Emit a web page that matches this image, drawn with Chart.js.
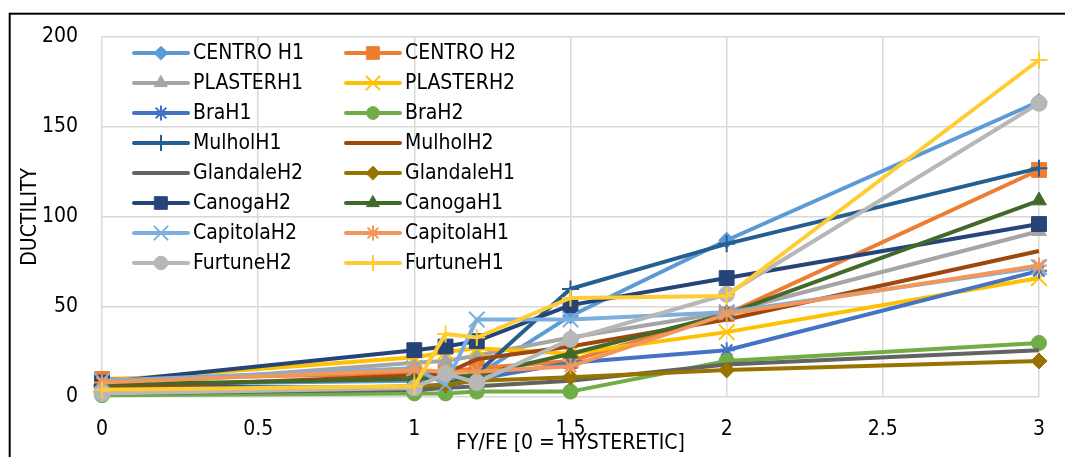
<!DOCTYPE html>
<html>
<head>
<meta charset="utf-8">
<script src="https://cdn.jsdelivr.net/npm/chart.js@4/dist/chart.umd.min.js"></script>
<style>
  html, body { margin: 0; padding: 0; background: #fff; overflow: hidden; }
  #wrap { position: relative; width: 1065px; height: 457px; }
</style>
</head>
<body>
<div id="wrap"><canvas id="c" width="1065" height="457"></canvas></div>
<script>
// ---- data ----
const xValues = [0, 1, 1.1, 1.2, 1.5, 2, 3];
const seriesNames = ["CENTRO H1", "CENTRO H2", "PLASTERH1", "PLASTERH2", "BraH1", "BraH2",
  "MulholH1", "MulholH2", "GlandaleH2", "GlandaleH1", "CanogaH2", "CanogaH1",
  "CapitolaH2", "CapitolaH1", "FurtuneH2", "FurtuneH1"];
const centroH1   = [7, 9, 11, 12, 45, 87, 164];
const centroH2   = [10, 13, 14, 16, 20, 46, 126];
const plasterH1  = [6, 19, 20, 23, 33, 47, 92];
const plasterH2  = [9, 22, 25, 27, 24, 36, 66];
const braH1      = [4, 3, 6, 10, 19, 26, 70];
const braH2      = [1, 2, 2, 3, 3, 20, 30];
const mulholH1   = [6, 5, 7, 13, 60, 85, 127];
const mulholH2   = [5, 12, 13, 21, 28, 43, 81];
const glandaleH2 = [2, 4, 5, 6, 9, 18, 26];
const glandaleH1 = [3, 6, 7, 9, 11, 15, 20];
const canogaH2   = [8, 26, 28, 31, 51, 66, 96];
const canogaH1   = [7, 10, 11, 12, 24, 46, 109];
const capitolaH2 = [9, 16, 7, 43, 43, 47, 72];
const capitolaH1 = [8, 15, 14, 14, 17, 46, 73];
const furtuneH2  = [2, 5, 13, 8, 32, 57, 163];
const furtuneH1  = [4, 6, 35, 33, 55, 56, 187];
const seriesValues = [centroH1, centroH2, plasterH1, plasterH2, braH1, braH2, mulholH1, mulholH2,
  glandaleH2, glandaleH1, canogaH2, canogaH1, capitolaH2, capitolaH1, furtuneH2, furtuneH1];
const yTicks = [0, 50, 100, 150, 200];
const xTicks = [0, 0.5, 1, 1.5, 2, 2.5, 3];

// ---- styles ----
const colors = ["#5B9BD5", "#ED7D31", "#A5A5A5", "#FFC000", "#4472C4", "#70AD47", "#255E91", "#9E480E",
  "#636363", "#997300", "#264478", "#43682B", "#7CAFDD", "#F1975A", "#B7B7B7", "#FFCD33"];
const markers = [
  {s: "rectRot", r: 8, w: 1}, {s: "rect", r: 10.5, w: 1}, {s: "triangle", r: 8.5, w: 1}, {s: "crossRot", r: 11, w: 2},
  {s: "star", r: 8, w: 2}, {s: "circle", r: 7.5, w: 1}, {s: "cross", r: 8.5, w: 2}, {s: "line", r: 0, w: 0},
  {s: "line", r: 0, w: 0}, {s: "rectRot", r: 8, w: 1}, {s: "rect", r: 10.5, w: 1}, {s: "triangle", r: 8.5, w: 1},
  {s: "crossRot", r: 11, w: 2}, {s: "star", r: 8, w: 2}, {s: "circle", r: 8, w: 1}, {s: "cross", r: 8.5, w: 2}
];
const FONT = "'DejaVu Sans Condensed', 'Liberation Sans', Arial, sans-serif";
const FSIZE = 21;

const datasets = seriesNames.map((name, i) => ({
  label: name,
  data: xValues.map((x, j) => ({x: x, y: seriesValues[i][j]})),
  borderColor: colors[i],
  backgroundColor: colors[i],
  borderWidth: 4,
  pointStyle: markers[i].s,
  pointRadius: markers[i].r,
  pointBorderWidth: markers[i].w,
  pointBackgroundColor: colors[i],
  pointBorderColor: colors[i],
  tension: 0,
  clip: false,
  order: 15 - i
}));

const framePlugin = {
  id: "frame",
  beforeDraw(chart) {
    const ctx = chart.ctx;
    ctx.save();
    ctx.fillStyle = "#fff";
    ctx.fillRect(0, 0, chart.width, chart.height);
    ctx.strokeStyle = "#000";
    ctx.lineWidth = 2;
    ctx.strokeRect(9.7, 13.7, 3000, 3000);
    ctx.restore();
  }
};

const legendPlugin = {
  id: "gridLegend",
  afterDraw(chart) {
    const ctx = chart.ctx;
    ctx.save();
    chart.data.datasets.forEach((ds, i) => {
      const col = i % 2, row = Math.floor(i / 2);
      const x0 = 134 + col * 212, y = 53 + row * 30;
      ctx.strokeStyle = ds.borderColor;
      ctx.lineWidth = 4;
      ctx.lineCap = "round";
      ctx.beginPath(); ctx.moveTo(x0, y); ctx.lineTo(x0 + 54, y); ctx.stroke();
      if (ds.pointRadius > 0) {
        ctx.fillStyle = ds.pointBackgroundColor;
        ctx.strokeStyle = ds.pointBorderColor;
        ctx.lineWidth = ds.pointBorderWidth;
        Chart.helpers.drawPoint(ctx, {pointStyle: ds.pointStyle, rotation: 0,
          radius: ds.pointRadius * 0.85, borderWidth: ds.pointBorderWidth}, x0 + 27, y);
      }
      ctx.fillStyle = "#000";
      ctx.font = FSIZE + "px " + FONT;
      ctx.textBaseline = "middle";
      ctx.textAlign = "left";
      ctx.fillText(ds.label, x0 + 59, y + 1);
    });
    ctx.restore();
  }
};

new Chart(document.getElementById("c"), {
  type: "line",
  data: { datasets: datasets },
  plugins: [framePlugin, legendPlugin],
  options: {
    responsive: false,
    animation: false,
    devicePixelRatio: 1,
    layout: { padding: { left: 18, top: 28, right: 18, bottom: 0 } },
    plugins: { legend: { display: false }, tooltip: { enabled: false } },
    scales: {
      x: {
        type: "linear", min: 0, max: 3,
        afterBuildTicks(scale) { scale.ticks = xTicks.map(v => ({value: v})); },
        afterFit(scale) { scale.height = 60; },
        grid: { color: "#D9D9D9", lineWidth: 1.5, drawTicks: false },
        border: { display: false },
        ticks: { color: "#000", font: { family: FONT, size: FSIZE }, padding: 20, maxRotation: 0,
          callback: v => String(v) },
        title: { display: true, text: "FY/FE [0 = HYSTERETIC]", color: "#000",
          font: { family: FONT, size: FSIZE }, padding: { top: 0, bottom: 1 } }
      },
      y: {
        min: 0, max: 200,
        afterBuildTicks(scale) { scale.ticks = yTicks.map(v => ({value: v})); },
        afterFit(scale) { scale.width = 84; },
        grid: { color: "#D9D9D9", lineWidth: 1.5, drawTicks: false },
        border: { display: false },
        ticks: { color: "#000", font: { family: FONT, size: FSIZE }, padding: 24 },
        title: { display: true, text: "DUCTILITY", color: "#000",
          font: { family: FONT, size: FSIZE }, padding: { top: 0, bottom: 0 } }
      }
    }
  }
});
</script>
</body>
</html>
